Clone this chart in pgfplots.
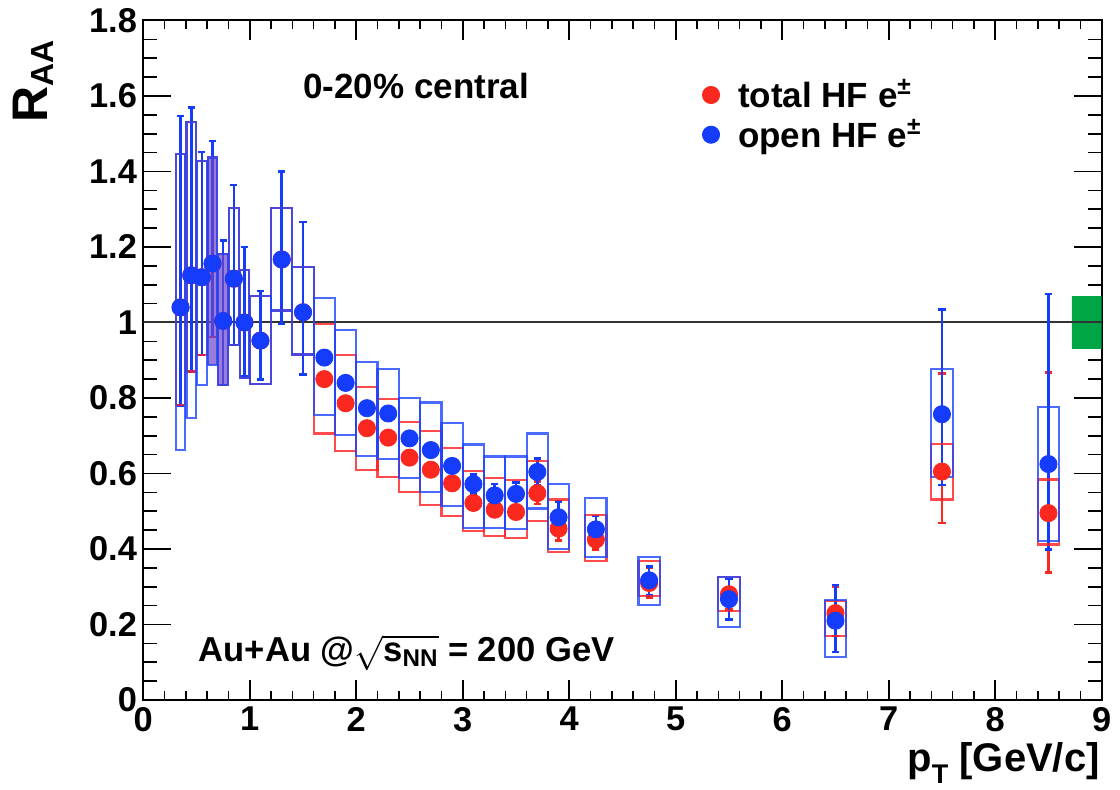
\documentclass[border=0pt]{standalone}
\usepackage{fontspec}
\setmainfont{Liberation Sans}
\usepackage{amsmath}
\usepackage{pgfplots}
\usepackage{pgfplotstable}
\pgfplotsset{compat=1.18}
\definecolor{mred}{RGB}{250,40,30}
\definecolor{mblue}{RGB}{20,60,250}
\definecolor{bred}{RGB}{255,30,30}
\definecolor{bblue}{RGB}{30,70,255}
\definecolor{mgreen}{RGB}{0,165,70}
\definecolor{boxfill}{RGB}{110,70,200}

% open HF e (blue)
\pgfplotstableread{
x y ep em lo hi hw fo
0.35 1.040 0.507 0.260 0.663 1.446 0.045 0
0.45 1.125 0.445 0.255 0.747 1.532 0.045 0
0.55 1.120 0.332 0.206 0.835 1.428 0.045 0
0.65 1.156 0.325 0.194 0.888 1.437 0.045 0.7
0.75 1.004 0.213 0.170 0.835 1.182 0.045 0.7
0.85 1.116 0.248 0.176 0.940 1.303 0.045 0
0.95 1.000 0.200 0.142 0.852 1.138 0.045 0
1.1 0.952 0.131 0.103 0.837 1.070 0.1 0
1.3 1.167 0.233 0.171 1.032 1.304 0.1 0
1.5 1.027 0.239 0.165 0.915 1.146 0.1 0
1.7 0.907 0.012 0.012 0.755 1.064 0.1 0
1.9 0.840 0.012 0.012 0.703 0.980 0.1 0
2.1 0.773 0.012 0.012 0.647 0.895 0.1 0
2.3 0.759 0.012 0.012 0.639 0.876 0.1 0
2.5 0.693 0.012 0.012 0.588 0.799 0.1 0
2.7 0.662 0.014 0.014 0.551 0.788 0.1 0
2.9 0.620 0.016 0.016 0.513 0.734 0.1 0
3.1 0.572 0.025 0.025 0.456 0.677 0.1 0
3.3 0.542 0.030 0.030 0.456 0.645 0.1 0
3.5 0.546 0.030 0.030 0.454 0.645 0.1 0
3.7 0.604 0.035 0.035 0.507 0.706 0.1 0
3.9 0.484 0.042 0.042 0.400 0.573 0.1 0
4.25 0.452 0.035 0.035 0.378 0.535 0.1 0
4.75 0.317 0.036 0.041 0.252 0.379 0.1 0
5.5 0.267 0.053 0.053 0.194 0.326 0.1 0
6.5 0.210 0.095 0.083 0.113 0.264 0.1 0
7.5 0.757 0.277 0.188 0.590 0.877 0.1 0
8.5 0.625 0.450 0.226 0.421 0.776 0.1 0
}\openhf

% total HF e (red)
\pgfplotstableread{
x y ep em lo hi hw fo
0.35 1.040 0.507 0.260 0.782 1.446 0.045 0
0.45 1.125 0.445 0.255 0.870 1.532 0.045 0
0.55 1.120 0.332 0.206 0.914 1.428 0.045 0
0.65 1.156 0.325 0.194 0.962 1.437 0.045 0
0.75 1.004 0.213 0.170 0.835 1.182 0.045 0
0.85 1.116 0.248 0.176 0.940 1.303 0.045 0
0.95 1.000 0.200 0.142 0.852 1.138 0.045 0
1.1 0.952 0.131 0.103 0.837 1.070 0.1 0
1.3 1.167 0.233 0.171 1.032 1.304 0.1 0
1.5 1.027 0.239 0.165 0.915 1.146 0.1 0
1.7 0.850 0.010 0.010 0.706 0.996 0.1 0
1.9 0.786 0.010 0.010 0.660 0.913 0.1 0
2.1 0.720 0.010 0.010 0.610 0.830 0.1 0
2.3 0.695 0.010 0.010 0.590 0.797 0.1 0
2.5 0.642 0.010 0.010 0.550 0.737 0.1 0
2.7 0.610 0.010 0.010 0.517 0.712 0.1 0
2.9 0.574 0.012 0.012 0.487 0.668 0.1 0
3.1 0.522 0.014 0.014 0.447 0.607 0.1 0
3.3 0.504 0.018 0.018 0.434 0.588 0.1 0
3.5 0.498 0.018 0.018 0.430 0.583 0.1 0
3.7 0.548 0.030 0.029 0.474 0.633 0.1 0
3.9 0.454 0.031 0.031 0.393 0.531 0.1 0
4.25 0.425 0.027 0.027 0.369 0.491 0.1 0
4.75 0.310 0.040 0.040 0.276 0.369 0.1 0
5.5 0.280 0.040 0.040 0.236 0.326 0.1 0
6.5 0.230 0.070 0.060 0.170 0.262 0.1 0
7.5 0.605 0.260 0.136 0.531 0.678 0.1 0
8.5 0.495 0.373 0.158 0.412 0.584 0.1 0
}\totalhf

\pgfplotsset{
  sysbox/.style={
    forget plot, only marks, mark=*, mark size=0pt, scatter,
    visualization depends on={\thisrow{hi}-\thisrow{lo} \as \boxht},
    visualization depends on={\thisrow{hw} \as \boxhw},
    visualization depends on={\thisrow{fo} \as \boxfo},
    scatter/@pre marker code/.code={%
      \pgfmathsetlengthmacro\boxw{\boxhw*53.2444pt}%
      \pgfmathsetlengthmacro\boxh{\boxht*188.75pt}%
      \draw[#1, line width=1.1pt, draw opacity=0.8, fill=boxfill, fill opacity=\boxfo]
        (-\boxw,0pt) rectangle (\boxw,\boxh);
      \scope},
    scatter/@post marker code/.code={\endscope},
  },
  pts/.style={
    only marks, mark=*, mark size=4.3pt, color=#1, mark options={fill=#1, draw=#1},
    error bars/.cd, y dir=both, y explicit,
    error bar style={line width=1.3pt, #1},
    error mark options={rotate=90, mark size=1.8pt, line width=1.3pt, #1},
  },
}

\begin{document}
\begin{tikzpicture}
\begin{axis}[name=ax, at={(0,0)}, anchor=south west,
  scale only axis, width=479.2pt, height=339.75pt,
  xmin=0, xmax=9, ymin=0, ymax=1.8,
  xtick={0,1,2,3,4,5,6,7,8,9},
  ytick={0,0.2,0.4,0.6,0.8,1,1.2,1.4,1.6,1.8},
  minor x tick num=4, minor y tick num=3,
  axis line style={line width=1pt},
  tick style={line width=0.8pt, black},
  major tick length=10pt, minor tick length=4.5pt,
  ytick style={/pgfplots/major tick length=14pt},
  minor y tick style={/pgfplots/minor tick length=7pt},
  tick label style={font=\fontsize{17.2}{19}\selectfont\bfseries},
  yticklabel style={inner xsep=3pt},
  /pgf/number format/assume math mode=true,
  legend style={at={(axis cs:5.247,1.655)}, anchor=north west, draw=none, fill=none,
    inner sep=0pt, font=\fontsize{17.5}{20}\selectfont\bfseries, row sep=0.5pt,
    /tikz/every odd column/.append style={column sep=7.2pt}},
  legend cell align=left,
  legend image code/.code={\draw[#1] plot coordinates {(0pt,0pt)};},
]
\addplot[forget plot, fill=mgreen, draw=none] coordinates {(8.72,0.93) (9,0.93) (9,1.07) (8.72,1.07) (8.72,0.93)};
\addplot[forget plot, black!80, line width=1pt] coordinates {(0,1) (9,1)};
\addplot[sysbox=bred] table[x=x, y=lo] {\totalhf};
\addplot[sysbox=bblue] table[x=x, y=lo] {\openhf};
\addplot[pts=mred] table[x=x, y=y, y error plus=ep, y error minus=em] {\totalhf};
\addlegendentry{total HF e\textsuperscript{±}}
\addplot[pts=mblue] table[x=x, y=y, y error plus=ep, y error minus=em] {\openhf};
\addlegendentry{open HF e\textsuperscript{±}}
\end{axis}
\node[rotate=90, anchor=base east, inner sep=0pt] at (-47.65pt,330pt)
  {\fontsize{25}{25}\selectfont\bfseries R\raisebox{-0.12em}{\fontsize{16}{16}\selectfont AA}};
\node[anchor=base east, inner sep=0pt] at (478.35pt,-36pt)
  {\fontsize{20}{20}\selectfont\bfseries p\raisebox{-0.3em}{\fontsize{13.5}{13.5}\selectfont T} [GeV/c]};
\node[anchor=base west, inner sep=0pt] at (79.85pt,300.5pt)
  {\fontsize{17.5}{19}\selectfont\bfseries 0-20\% central};
\node[anchor=base west, inner sep=0pt] at (27.5pt,19.15pt)
  {\fontsize{17.3}{19}\selectfont\bfseries Au+Au @$\sqrt{\text{s}_{\text{NN}}}$ = 200 GeV};
\pgfresetboundingbox
\path[use as bounding box] (-71.65pt,-45pt) rectangle (488.35pt,350pt);
\end{tikzpicture}
\end{document}
